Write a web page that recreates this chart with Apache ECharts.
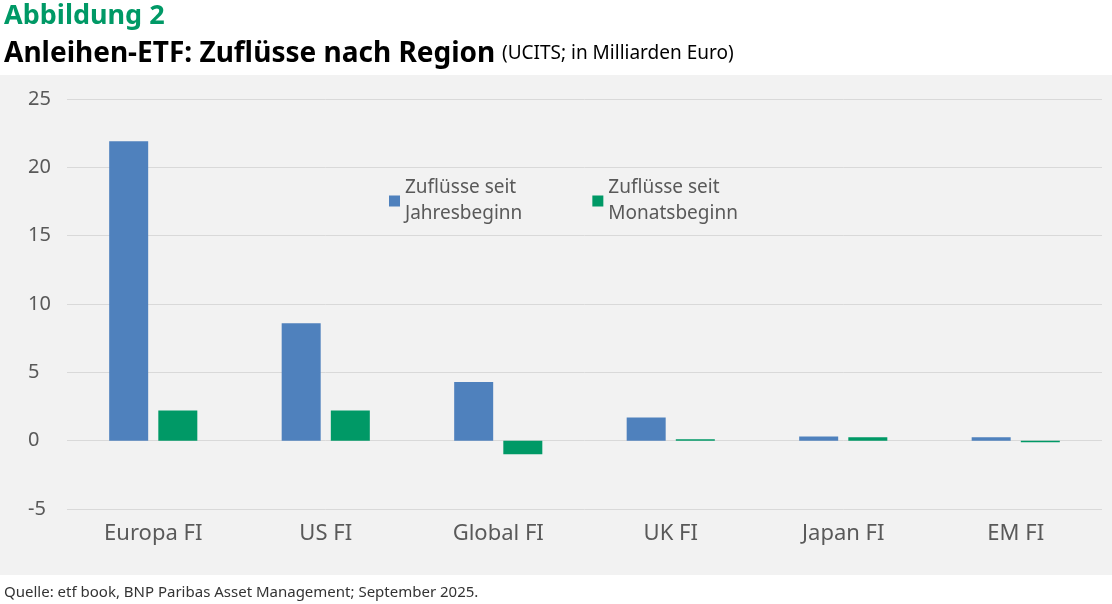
<!DOCTYPE html>
<html>
<head>
<meta charset="utf-8">
<script src="https://cdn.jsdelivr.net/npm/echarts@6/dist/echarts.min.js"></script>
<style>
  html, body { margin: 0; padding: 0; background: #fff; }
  #chart { width: 1112px; height: 604px; }
</style>
</head>
<body>
<div id="chart"></div>
<script>
// Daten
var regions = ['Europa FI', 'US FI', 'Global FI', 'UK FI', 'Japan FI', 'EM FI']
var seitJahresbeginn = [21.9, 8.6, 4.3, 1.7, 0.3, 0.25]
var seitMonatsbeginn = [2.2, 2.2, -1.0, 0.1, 0.25, -0.12]
var yTicks = [-5, 0, 5, 10, 15, 20, 25]

var textColor = '#595959'
var font = 'Noto Sans'

var chart = echarts.init(document.getElementById('chart'))

var option = {
  backgroundColor: '#fff',
  textStyle: { fontFamily: font },
  graphic: [
    {
      type: 'rect',
      z: -10,
      shape: { x: 0, y: 75, width: 1112, height: 500 },
      style: { fill: '#f2f2f2' }
    },
    {
      type: 'text',
      left: 4, top: 3,
      style: { text: 'Abbildung 2', fill: '#009966', font: 'bold 27px "Noto Sans"' }
    },
    {
      type: 'text',
      left: 4, top: 40,
      style: {
        text: '{a|Anleihen-ETF: Zuflüsse nach Region}  {b|(UCITS; in Milliarden Euro)}',
        rich: {
          a: { fontFamily: font, fontSize: 28, fontWeight: 'bold', fill: '#000' },
          b: { fontFamily: font, fontSize: 19, fill: '#000' }
        }
      }
    },
    {
      type: 'text',
      left: 4, top: 585,
      style: { text: 'Quelle: etf book, BNP Paribas Asset Management; September 2025.', fill: '#333', font: '15px "Noto Sans"' }
    }
  ],
  legend: {
    left: 384,
    top: 170,
    itemGap: 70,
    itemWidth: 11,
    itemHeight: 11,
    icon: 'rect',
    textStyle: { color: textColor, fontSize: 19, lineHeight: 26, fontFamily: font },
    data: ['Zuflüsse seit\nJahresbeginn', 'Zuflüsse seit\nMonatsbeginn']
  },
  grid: {
    left: 67,
    right: 10,
    top: 99,
    bottom: 95,
    containLabel: false,
    outerBoundsMode: 'none'
  },
  xAxis: {
    type: 'category',
    data: regions,
    axisLine: { show: false },
    axisTick: { show: false },
    axisLabel: { color: textColor, fontSize: 22, margin: 14, fontFamily: font }
  },
  yAxis: {
    type: 'value',
    min: yTicks[0],
    max: yTicks[yTicks.length - 1],
    interval: 5,
    axisLine: { show: false },
    axisTick: { show: false },
    axisLabel: { color: textColor, fontSize: 20, margin: 39, align: 'left', fontFamily: font },
    splitLine: { lineStyle: { color: '#d9d9d9', width: 1 } }
  },
  series: [
    {
      name: 'Zuflüsse seit\nJahresbeginn',
      type: 'bar',
      data: seitJahresbeginn,
      barWidth: 39,
      barGap: '26%',
      itemStyle: { color: '#4f81bd' }
    },
    {
      name: 'Zuflüsse seit\nMonatsbeginn',
      type: 'bar',
      data: seitMonatsbeginn,
      barWidth: 39,
      itemStyle: { color: '#009966' }
    }
  ]
}

chart.setOption(option)
</script>
</body>
</html>
